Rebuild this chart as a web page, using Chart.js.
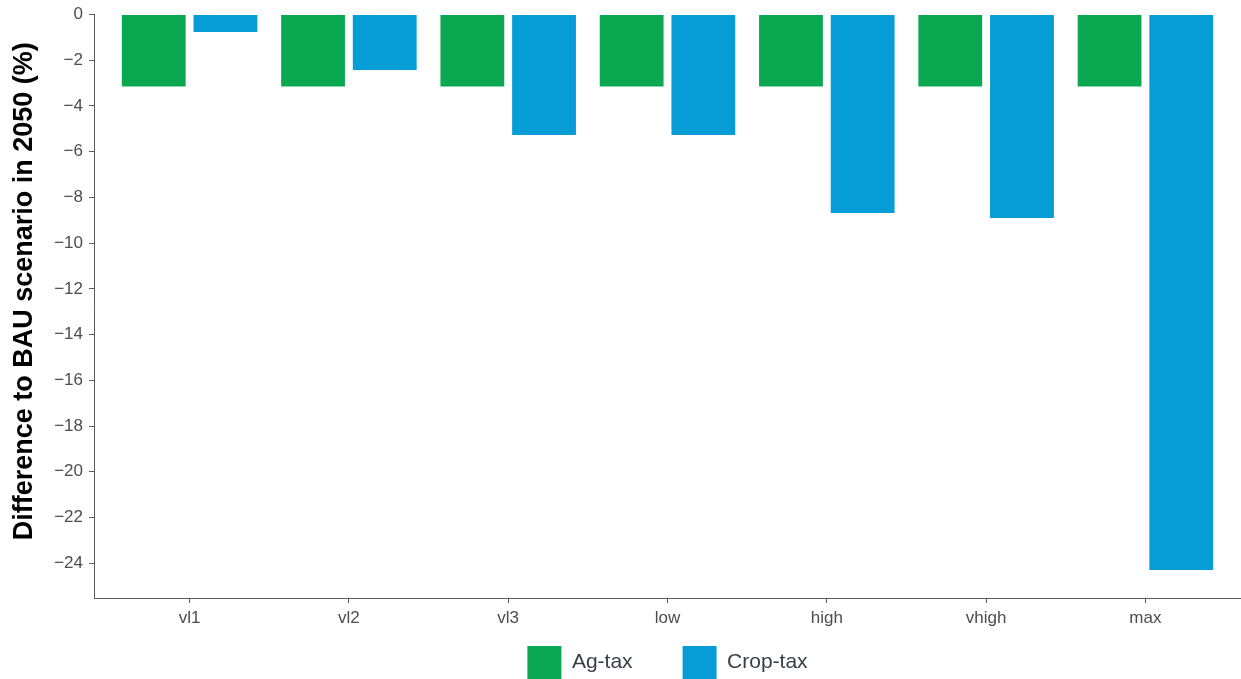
<!DOCTYPE html>
<html>
<head>
<meta charset="utf-8">
<script src="https://cdn.jsdelivr.net/npm/chart.js@4/dist/chart.umd.min.js"></script>
<style>
  body { margin: 0; background: #fff; }
  #wrap { width: 1241px; height: 679px; position: relative; }
</style>
</head>
<body>
<div id="wrap"><canvas id="chart"></canvas></div>
<script>
// categories and values
const categories = ["vl1", "vl2", "vl3", "low", "high", "vhigh", "max"];
const agTax = [-3.15, -3.15, -3.15, -3.15, -3.15, -3.15, -3.15];
const cropTax = [-0.77, -2.43, -5.27, -5.27, -8.68, -8.9, -24.3];
const yTickValues = [-24, -22, -20, -18, -16, -14, -12, -10, -8, -6, -4, -2, 0];

const tickColor = "#4d4d4d";
const axisColor = "#5a5a5a";
const fontFamily = "'Liberation Sans', Arial, Helvetica, sans-serif";

// bars placed on a numeric x axis so the outer padding matches (0.6 of a category each side)
function toPoints(values) {
    return values.map((v, i) => ({ x: i + 1, y: v }));
}

// legend items sit right at the bottom edge, with wide gaps between them
const legendShift = {
    id: "legendShift",
    afterLayout(chart) {
        const lg = chart.legend;
        lg.top = 646 - lg.options.labels.padding;
        lg.bottom = chart.height;
        lg.height = lg.bottom - lg.top;
    }
};

const ctx = document.getElementById("chart").getContext("2d");
new Chart(ctx, {
    type: "bar",
    data: {
        datasets: [
            {
                label: "Ag-tax",
                data: toPoints(agTax),
                backgroundColor: "#0ba852",
                borderWidth: 0,
                categoryPercentage: 0.9,
                barPercentage: 0.89
            },
            {
                label: "Crop-tax",
                data: toPoints(cropTax),
                backgroundColor: "#069cd6",
                borderWidth: 0,
                categoryPercentage: 0.9,
                barPercentage: 0.89
            }
        ]
    },
    options: {
        responsive: true,
        maintainAspectRatio: false,
        animation: false,
        layout: { padding: { top: 9, left: 0, right: 0, bottom: 0 } },
        plugins: {
            tooltip: { enabled: false },
            legend: {
                position: "bottom",
                fullSize: false,
                maxHeight: 41,
                labels: {
                    boxWidth: 34,
                    boxHeight: 33,
                    padding: 50,
                    color: "#343f4a",
                    font: { family: fontFamily, size: 21 }
                }
            }
        },
        scales: {
            x: {
                type: "linear",
                offset: false,
                min: 0.4,
                max: 7.6,
                afterBuildTicks: (scale) => {
                    scale.ticks = categories.map((c, i) => ({ value: i + 1 }));
                },
                afterFit: (scale) => { scale.height = 40; },
                ticks: {
                    callback: (v) => categories[v - 1],
                    color: tickColor,
                    padding: 5,
                    font: { family: fontFamily, size: 17 },
                    maxRotation: 0,
                    autoSkip: false
                },
                grid: { offset: false, drawOnChartArea: false, drawTicks: true, tickLength: 5, color: axisColor },
                border: { display: true, color: axisColor, width: 1 }
            },
            y: {
                min: -25.52,
                max: 0,
                afterBuildTicks: (scale) => {
                    scale.ticks = yTickValues.map(v => ({ value: v }));
                },
                afterFit: (scale) => { scale.width = 94; },
                ticks: {
                    callback: (v) => (v < 0 ? "\u2212" + Math.abs(v) : String(v)),
                    color: tickColor,
                    padding: 6,
                    font: { family: fontFamily, size: 17, lineHeight: 1 }
                },
                grid: { drawOnChartArea: false, drawTicks: true, tickLength: 5, color: axisColor },
                border: { display: true, color: axisColor, width: 1 },
                title: {
                    display: true,
                    text: "    Difference to BAU scenario in 2050 (%)",
                    color: "#000",
                    padding: { top: 8, bottom: 0 },
                    font: { family: fontFamily, size: 27, weight: "bold" }
                }
            }
        }
    },
    plugins: [legendShift]
});
</script>
</body>
</html>
